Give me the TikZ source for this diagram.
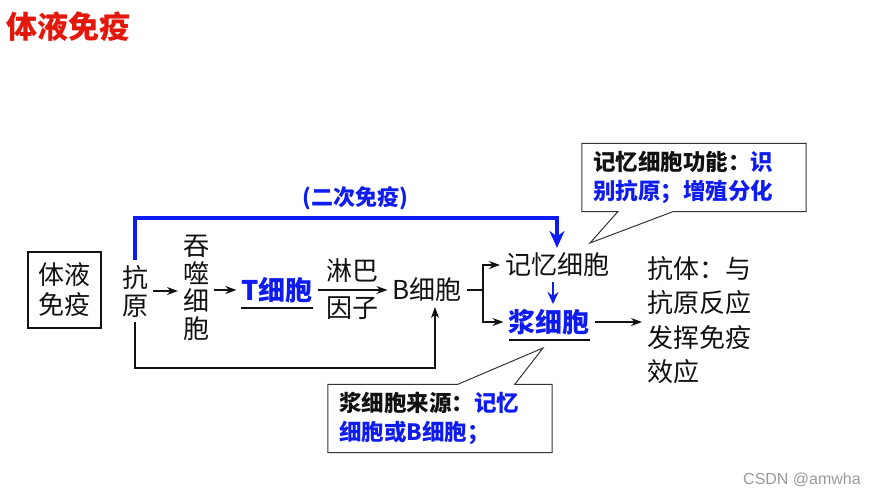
\documentclass[tikz,border=0pt]{standalone}
\usepackage{fontspec}
\setmainfont{Liberation Sans}
\newfontfamily\cjk{Noto Sans CJK SC}
\usetikzlibrary{arrows.meta,positioning}
\definecolor{imred}{HTML}{E3170A}
\definecolor{imblue}{HTML}{0F1CF0}
\definecolor{imink}{HTML}{111111}
\definecolor{immute}{HTML}{9A9A9A}
\tikzset{
  tx/.style={inner sep=0pt, outer sep=5pt, align=center, text=imink, font=\cjk\fontsize{26}{28}\selectfont},
  hl/.style={tx, text=imblue, font=\cjk\bfseries\fontsize{27}{28}\selectfont},
  frm/.style={tx, draw=imink, line width=1.2pt, minimum width=73pt, minimum height=76pt, outer sep=0pt, font=\cjk\fontsize{26}{30}\selectfont},
  note/.style={inner xsep=11pt, inner ysep=0pt, text width=202pt, minimum height=68pt, align=left, text=imink, font=\cjk\bfseries\fontsize{22.5}{29}\selectfont},
  bub/.style={draw=imink!85, line width=1pt},
  arr/.style={-{Stealth[length=11pt, width=8pt]}, line width=1.3pt, color=imink},
  ln/.style={line width=1.3pt, color=imink},
  barr/.style={-{Stealth[length=17pt, width=15pt]}, line width=3.8pt, color=imblue},
  ul/.style={line width=1.3pt, color=imink},
}

\begin{document}
\begin{tikzpicture}[x=1pt, y=-1pt]
  \useasboundingbox (0,0) rectangle (886,496);
  \node[tx, text=imred, font=\cjk\bfseries\fontsize{31}{31}\selectfont] (ttl) at (68,27) {体液免疫};
  \node[frm] (hy) at (64.5,290) {体液\\免疫};
  \node[tx] (ag) at (135,291) {抗\\原};
  \node[tx, font=\cjk\fontsize{26}{27.5}\selectfont] (ph) at (196,288) {吞\\噬\\细\\胞};
  \node[hl] (tc) at (277,290) {T细胞};
  \node[tx] (bc) at (427,290) {B细胞};
  \node[tx] (mc) at (557,265) {记忆细胞};
  \node[hl] (pc) at (549,322) {浆细胞};
  \node[tx, anchor=west, align=left, font=\cjk\fontsize{26}{34.5}\selectfont] (ab) at (642,320) {抗体：与\\抗原反应\\发挥免疫\\效应};
  \node[tx, text=imblue, font=\cjk\bfseries\fontsize{22}{22}\selectfont] (sec) at (355,198) {(二次免疫)};
  \node[note] (n1) at (694,177.5) {记忆细胞功能：\textcolor{imblue}{识}\\\textcolor{imblue}{别抗原；增殖分化}};
  \node[note] (n2) at (440,418.5) {浆细胞来源：\textcolor{imblue}{记忆}\\\textcolor{imblue}{细胞或B细胞；}};
  \node[text=immute, font=\fontsize{16}{16}\selectfont] (wm) at (802,480) {CSDN @amwha};
  \coordinate (fk) at (483,290);
  \coordinate (hi) at (135,218);
  \coordinate (lo) at (135,368);
  \coordinate (t1) at (590,243);
  \coordinate (t2) at (543,348);
  \draw[arr] (ag.east) -- (ag.east -| ph.west);
  \draw[arr] (tc.west -| ph.east) -- (tc.west);
  \draw[arr] (tc) -- node[tx, above, inner sep=2pt]{淋巴} node[tx, below, inner sep=2pt]{因子} (bc);
  \draw[ln] (bc) -- (fk);
  \draw[arr] (fk) |- (mc.west);
  \draw[arr] (fk) |- (pc.west);
  \draw[barr, line width=2.4pt, -{Stealth[length=12pt, width=11pt]}] ([xshift=-4pt]mc.south) -- ([xshift=4pt]pc.north);
  \draw[arr] (pc.east) -- (pc.east -| ab.west);
  \draw[barr] (ag.north) |- (mc.north |- hi) -- (mc.north);
  \draw[arr] (ag.south) |- ([xshift=8pt]bc.south |- lo) -- ([xshift=8pt]bc.south);
  \draw[ul] ([xshift=5pt]tc.south west) -- ([xshift=-5pt]tc.south east);
  \draw[ul] ([xshift=5pt]pc.south west) -- ([xshift=-5pt]pc.south east);
  \draw[bub] (n1.north west) -- (n1.north east) -- (n1.south east) -- ([xshift=91pt]n1.south west) -- (t1) -- ([xshift=36pt]n1.south west) -- (n1.south west) -- cycle;
  \draw[bub] (n2.north west) -- ([xshift=130pt]n2.north west) -- (t2) -- ([xshift=187pt]n2.north west) -- (n2.north east) -- (n2.south east) -- (n2.south west) -- cycle;
\end{tikzpicture}
\end{document}
